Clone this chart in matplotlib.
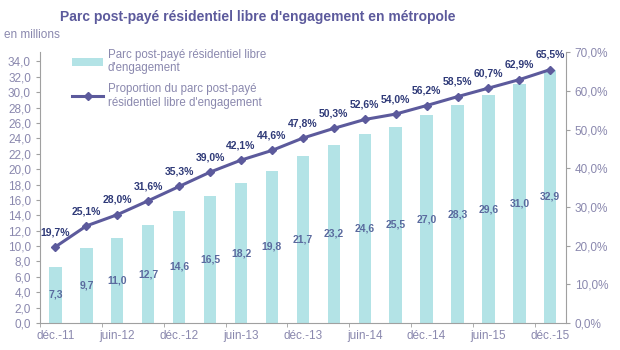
import matplotlib
matplotlib.use("Agg")
import matplotlib.pyplot as plt
import numpy as np

plt.rcParams["font.family"] = ["Liberation Sans", "DejaVu Sans"]

categories = ["déc.-11", "mars-12", "juin-12", "sept.-12", "déc.-12", "mars-13", "juin-13", "sept.-13",
              "déc.-13", "mars-14", "juin-14", "sept.-14", "déc.-14", "mars-15", "juin-15", "sept.-15", "déc.-15"]
parc = [7.3, 9.7, 11.0, 12.7, 14.6, 16.5, 18.2, 19.8, 21.7, 23.2, 24.6, 25.5, 27.0, 28.3, 29.6, 31.0, 32.9]
proportion = [19.7, 25.1, 28.0, 31.6, 35.3, 39.0, 42.1, 44.6, 47.8, 50.3, 52.6, 54.0, 56.2, 58.5, 60.7, 62.9, 65.5]
left_ticks = list(np.arange(0, 35, 2))
right_ticks = list(range(0, 71, 10))

def fr(v, d=1):
    return f"{v:.{d}f}".replace(".", ",")

bar_color = "#B3E3E6"
line_color = "#5C5A9C"
tick_color = "#8A88AE"
label_dark = "#2F3A78"
bar_label_color = "#5A6A9E"

fig = plt.figure(figsize=(6.2, 3.5), dpi=100)
ax = fig.add_axes([0.0645, 0.077, 0.848, 0.774])
ax2 = ax.twinx()

x = np.arange(len(categories))
bars = ax.bar(x, parc, width=0.4, color=bar_color, zorder=1, label="Parc post-payé résidentiel libre\nd'engagement")
for xi, v in zip(x, parc):
    ax.text(xi, v / 2, fr(v), ha="center", va="center", fontsize=7.5, color=bar_label_color, fontweight="bold")

ln, = ax2.plot(x, proportion, color=line_color, lw=2.2, marker="D", ms=4.5, zorder=3,
               label="Proportion du parc post-payé\nrésidentiel libre d'engagement")
for xi, v in zip(x, proportion):
    ax2.annotate(fr(v) + "%", (xi, v), xytext=(0, 7), textcoords="offset points",
                 ha="center", va="bottom", fontsize=7.5, color=label_dark, fontweight="bold")

ax.set_xlim(-0.5, len(categories) - 0.5)
ax.set_ylim(0, 35.2)
ax2.set_ylim(0, 70)
ax.set_yticks(left_ticks)
ax.set_yticklabels([fr(t) for t in left_ticks])
ax2.set_yticks(right_ticks)
ax2.set_yticklabels([fr(t) + "%" for t in right_ticks])

ax.set_xticks(x[::2])
ax.set_xticklabels(categories[::2])
ax.set_xticks(np.arange(-0.5, len(categories), 2), minor=True)
ax.tick_params(axis="x", which="major", length=0, labelsize=8.5, colors=tick_color, pad=5)
ax.tick_params(axis="x", which="minor", length=3, color="#A0A0A0")
ax.tick_params(axis="y", length=3, labelsize=8.5, colors=tick_color, color="#A0A0A0")
ax2.tick_params(axis="y", length=3, labelsize=8.5, colors=tick_color, color="#A0A0A0")

for a in (ax, ax2):
    a.spines["top"].set_visible(False)
    for s in ("left", "right", "bottom"):
        a.spines[s].set_color("#A0A0A0")
ax.spines["right"].set_visible(False)
ax2.spines["left"].set_visible(False)
ax2.spines["bottom"].set_visible(False)

leg = ax.legend([bars, ln], [bars.get_label(), ln.get_label()], loc="upper left",
                bbox_to_anchor=(0.052, 1.03), frameon=False, fontsize=8.3,
                handlelength=2.7, labelspacing=0.75, handletextpad=0.4, borderaxespad=0)
for t in leg.get_texts():
    t.set_color(tick_color)

fig.text(0.416, 0.952, "Parc post-payé résidentiel libre d'engagement en métropole", ha="center", va="center",
         fontsize=10, fontweight="bold", color="#5C5A9C")
fig.text(0.006, 0.9, "en millions", ha="left", va="center", fontsize=8.5, color=tick_color)

fig.savefig("out.png", dpi=100)
